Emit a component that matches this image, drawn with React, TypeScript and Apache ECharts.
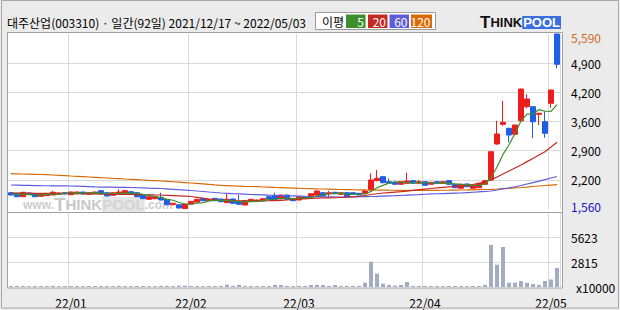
import React, { useEffect, useRef } from "react";
import * as echarts from "echarts";

const TITLE = "대주산업(003310) · 일간(92일) 2021/12/17 ~ 2022/05/03";

const dates = [
  "2021/12/17", "2021/12/20", "2021/12/21", "2021/12/22", "2021/12/23", "2021/12/24", "2021/12/27", "2021/12/28", "2021/12/29", "2021/12/30",
  "2022/01/03", "2022/01/04", "2022/01/05", "2022/01/06", "2022/01/07", "2022/01/10", "2022/01/11", "2022/01/12", "2022/01/13", "2022/01/14",
  "2022/01/17", "2022/01/18", "2022/01/19", "2022/01/20", "2022/01/21", "2022/01/24", "2022/01/25", "2022/01/26", "2022/01/27", "2022/01/28",
  "2022/02/03", "2022/02/04", "2022/02/07", "2022/02/08", "2022/02/09", "2022/02/10", "2022/02/11", "2022/02/14", "2022/02/15", "2022/02/16",
  "2022/02/17", "2022/02/18", "2022/02/21", "2022/02/22", "2022/02/23", "2022/02/24", "2022/02/25", "2022/02/28",
  "2022/03/02", "2022/03/03", "2022/03/04", "2022/03/07", "2022/03/08", "2022/03/10", "2022/03/11", "2022/03/14", "2022/03/15", "2022/03/16",
  "2022/03/17", "2022/03/18", "2022/03/21", "2022/03/22", "2022/03/23", "2022/03/24", "2022/03/25", "2022/03/28", "2022/03/29", "2022/03/30",
  "2022/03/31",
  "2022/04/01", "2022/04/04", "2022/04/05", "2022/04/06", "2022/04/07", "2022/04/08", "2022/04/11", "2022/04/12", "2022/04/13", "2022/04/14",
  "2022/04/15", "2022/04/18", "2022/04/19", "2022/04/20", "2022/04/21", "2022/04/22", "2022/04/25", "2022/04/26", "2022/04/27", "2022/04/28",
  "2022/04/29",
  "2022/05/02", "2022/05/03",
];

const opens = [
  1935, 1921, 1843, 1928, 1912, 1852, 1866, 1882, 1898, 1935,
  1889, 1912, 1951, 1898, 1912, 1981, 1935, 1875, 1905, 1921,
  1958, 1935, 1875, 1783, 1797, 1829, 1783, 1659, 1659, 1570,
  1675, 1721, 1797, 1751, 1806, 1790, 1706, 1790, 1728, 1652,
  1728, 1744, 1751, 1843, 1866, 1790, 1882, 1806,
  1767, 1797, 1843, 1882, 1935, 1912, 1944, 1898, 1935, 1935,
  1921, 1921, 1997, 2212, 2304, 2189, 2175, 2129, 2152, 2212,
  2152,
  2189, 2129, 2189, 2152, 2212, 2129, 2037, 2136, 2037, 2050,
  2129, 2228, 3057, 3510, 3418, 3280, 3590, 3916, 3916, 3741,
  3570,
  3994, 5590,
];
const closes = [
  1882, 1843, 1944, 1889, 1843, 1898, 1912, 1944, 1928, 1905,
  1951, 1951, 1905, 1935, 1951, 1905, 1859, 1935, 1951, 1981,
  1905, 1843, 1797, 1843, 1843, 1767, 1659, 1691, 1583, 1675,
  1737, 1783, 1751, 1783, 1751, 1728, 1783, 1691, 1668, 1751,
  1783, 1767, 1797, 1790, 1783, 1882, 1783, 1751,
  1843, 1843, 1912, 1974, 1866, 1935, 1912, 1935, 1843, 1898,
  1882, 1974, 2228, 2267, 2166, 2152, 2129, 2189, 2205, 2152,
  2189,
  2106, 2175, 2152, 2189, 2129, 2050, 2129, 2073, 2112, 2152,
  2212, 2879, 3287, 3556, 3264, 3494, 4323, 4093, 3570, 3764,
  3303,
  4300, 4892,
];
const lows = [
  1875, 1835, 1835, 1880, 1835, 1845, 1860, 1875, 1890, 1898,
  1880, 1905, 1898, 1890, 1905, 1900, 1850, 1870, 1900, 1915,
  1895, 1835, 1790, 1775, 1790, 1760, 1650, 1650, 1575, 1560,
  1665, 1715, 1745, 1745, 1745, 1720, 1700, 1685, 1660, 1645,
  1720, 1735, 1745, 1785, 1775, 1785, 1775, 1745,
  1760, 1790, 1835, 1875, 1860, 1843, 1900, 1890, 1835, 1890,
  1875, 1915, 1990, 2200, 2150, 2140, 2120, 2120, 2145, 2145,
  2145,
  2100, 2120, 2145, 2145, 2120, 2040, 2030, 2065, 2030, 2045,
  2120, 2220, 3040, 3478, 3096, 3270, 3580, 3879, 3188, 3494,
  3202,
  3893, 4800,
];
const highs = [
  1945, 1930, 1955, 1935, 1920, 1905, 1920, 1981, 1935, 1940,
  1960, 1960, 1960, 1945, 1960, 1990, 1945, 1940, 2013, 1990,
  1965, 1940, 1880, 1850, 1850, 1935, 1790, 1700, 1665, 1680,
  1745, 1790, 1805, 1790, 1810, 1795, 1905, 1800, 1882, 1760,
  1790, 1775, 1805, 1850, 1935, 1890, 1895, 1810,
  1850, 1850, 1920, 1985, 1945, 1981, 1955, 1945, 1945, 1945,
  1930, 2013, 2382, 2458, 2320, 2267, 2190, 2200, 2396, 2220,
  2228,
  2200, 2185, 2200, 2200, 2220, 2140, 2140, 2145, 2120, 2160,
  2220, 2890, 3593, 4047, 3430, 3500, 4330, 4201, 3930, 3770,
  3801,
  4310, 5590,
];

// trading volume, unit x10000 shares
const volumes = [
  120, 110, 130, 100, 110, 100, 110, 140, 100, 100,
  110, 120, 100, 110, 110, 120, 110, 100, 140, 120,
  100, 110, 120, 100, 100, 130, 140, 110, 150, 150,
  120, 110, 100, 100, 110, 130, 260, 140, 250, 130,
  110, 100, 110, 120, 240, 230, 130, 110,
  120, 110, 230, 240, 220, 120, 230, 120, 110, 110,
  130, 480, 2850, 1500, 370, 240, 170, 230, 560, 130,
  120,
  110, 100, 110, 100, 110, 120, 110, 100, 110, 120,
  240, 4730, 2510, 4500, 490, 490, 680, 480, 330, 230,
  680,
  850, 2150,
];

const ma5 = [
  1905, 1895, 1900, 1895, 1880, 1883, 1897, 1897, 1905, 1917,
  1928, 1936, 1928, 1929, 1939, 1929, 1911, 1917, 1920, 1926,
  1926, 1923, 1895, 1874, 1846, 1819, 1782, 1761, 1709, 1675,
  1669, 1694, 1706, 1746, 1761, 1759, 1759, 1747, 1724, 1724,
  1735, 1732, 1753, 1778, 1784, 1804, 1807, 1798,
  1808, 1820, 1826, 1865, 1888, 1906, 1920, 1924, 1898, 1905,
  1894, 1906, 1965, 2050, 2103, 2157, 2188, 2181, 2168, 2165,
  2173,
  2168, 2165, 2155, 2162, 2150, 2139, 2130, 2114, 2099, 2103,
  2136, 2286, 2528, 2817, 3040, 3296, 3585, 3746, 3749, 3849,
  3811,
  3806, 3966,
];
const ma20 = [
  1928, 1927, 1925, 1924, 1922, 1921, 1920, 1920, 1919, 1918,
  1917, 1915, 1912, 1910, 1907, 1905, 1903, 1901, 1898, 1896,
  1894, 1892, 1889, 1887, 1884, 1882, 1876, 1869, 1862, 1855,
  1848, 1829, 1809, 1790, 1773, 1756, 1754, 1751, 1749, 1746,
  1744, 1746, 1749, 1751, 1754, 1756, 1767, 1779,
  1790, 1798, 1806, 1810, 1814, 1818, 1821, 1825, 1832, 1840,
  1848, 1871, 1894, 1911, 1928, 1938, 1948, 1958, 1973, 1989,
  2004,
  2018, 2032, 2045, 2059, 2069, 2079, 2089, 2106, 2124, 2151,
  2193, 2228, 2297, 2366, 2435, 2504, 2573, 2651, 2725, 2803,
  2879,
  2988, 3096,
];
const ma60 = [
  2113, 2110, 2106, 2103, 2100, 2096, 2095, 2094, 2092, 2091,
  2090, 2085, 2080, 2075, 2070, 2066, 2064, 2062, 2059, 2057,
  2055, 2050, 2046, 2041, 2037, 2032, 2023, 2014, 2004, 1995,
  1986, 1974, 1963, 1951, 1940, 1928, 1921, 1914, 1908, 1901,
  1894, 1890, 1885, 1880, 1876, 1871, 1866, 1862,
  1857, 1852, 1848, 1846, 1843, 1841, 1838, 1836, 1838, 1840,
  1843, 1845, 1848, 1852, 1857, 1862, 1866, 1871, 1878, 1885,
  1892,
  1900, 1907, 1911, 1916, 1920, 1924, 1928, 1937, 1946, 1955,
  1964, 1974, 1997, 2022, 2047, 2073, 2101, 2135, 2169, 2203,
  2238,
  2274, 2309,
];
const ma120 = [
  2373, 2370, 2366, 2362, 2358, 2354, 2350, 2343, 2336, 2328,
  2320, 2313, 2305, 2297, 2289, 2281, 2274, 2266, 2259, 2251,
  2244, 2236, 2228, 2220, 2213, 2205, 2196, 2187, 2178, 2169,
  2159, 2148, 2138, 2127, 2116, 2106, 2100, 2094, 2089, 2083,
  2078, 2073, 2067, 2062, 2056, 2051, 2046, 2041,
  2036, 2032, 2028, 2024, 2021, 2017, 2013, 2009, 2007, 2004,
  2002, 1999, 1997, 1996, 1995, 1993, 1992, 1990, 1990, 1990,
  1990,
  1990, 1990, 1991, 1992, 1993, 1995, 1997, 1999, 2002, 2006,
  2009, 2013, 2020, 2028, 2036, 2045, 2055, 2066, 2078, 2090,
  2101,
  2112, 2120,
];

const priceTickLabels = ["1,560", "2,200", "2,900", "3,600", "4,200", "4,900", "5,590"];
const volumeTickLabels = ["x10000", "2815", "5623", ""];
const PRICE_MIN = 1560;
const PRICE_MAX = 5590;
const VOLUME_MAX = 8434;

const legendTitle = "이평";
const legendLabels = ["5", "20", "60", "120"];
const legendColors = ["#3d8f2a", "#c42a22", "#5f5cdc", "#d96b06"];

const FONT = "'Noto Sans CJK KR', 'Noto Sans', sans-serif";
const UP = "#f01c1c";
const DOWN = "#1f5ee6";
const GRID_LINE = "#d9d9d9";
const FRAME = "#a0a0a0";

const isMonthStart = (index: number) =>
  index > 0 && dates[index].slice(5, 7) !== dates[index - 1].slice(5, 7);
const monthLabel = (value: string) => value.slice(2, 4) + "/" + value.slice(5, 7);

export default function App() {
  const ref = useRef<HTMLDivElement>(null);

  useEffect(() => {
    document.body.style.margin = "0";
    if (!ref.current) return;
    const chart = echarts.init(ref.current, undefined, { renderer: "svg" });

    const legendBoxes: any[] = [];
    const boxX = [346, 368, 389.5, 411];
    const boxW = [19.5, 19.5, 19.5, 21];
    legendLabels.forEach((label, i) => {
      legendBoxes.push({
        type: "rect",
        shape: { x: boxX[i], y: 14.5, width: boxW[i], height: 13.5 },
        style: { fill: legendColors[i] },
      });
      legendBoxes.push({
        type: "text",
        x: boxX[i] + boxW[i] - 1.5,
        y: 21.5,
        style: {
          text: label,
          fill: "#fff",
          font: `12px ${FONT}`,
          align: "right",
          verticalAlign: "middle",
        },
      });
    });

    const option: any = {
      animation: false,
      backgroundColor: "#ebebeb",
      textStyle: { fontFamily: FONT },
      grid: [
        { left: 8, top: 34, width: 552, height: 175 },
        { left: 8, top: 212, width: 552, height: 75 },
      ],
      xAxis: [
        {
          type: "category",
          gridIndex: 0,
          data: dates,
          boundaryGap: true,
          axisLine: { show: false },
          axisTick: { show: false },
          axisLabel: { show: false },
          splitLine: { show: true, interval: isMonthStart, lineStyle: { color: GRID_LINE, width: 1 } },
        },
        {
          type: "category",
          gridIndex: 1,
          data: dates,
          boundaryGap: true,
          axisLine: { show: false },
          axisTick: { show: false },
          axisLabel: {
            show: true,
            interval: isMonthStart,
            formatter: monthLabel,
            margin: 9,
            fontSize: 12,
            color: "#000",
            fontFamily: FONT,
          },
          splitLine: { show: true, interval: isMonthStart, lineStyle: { color: GRID_LINE, width: 1 } },
        },
      ],
      yAxis: [
        { type: "value", gridIndex: 0, min: PRICE_MIN, max: PRICE_MAX, show: false },
        {
          type: "category",
          gridIndex: 0,
          position: "right",
          data: priceTickLabels,
          boundaryGap: false,
          axisLine: { show: false },
          axisTick: { show: false },
          axisLabel: {
            margin: 11,
            fontSize: 12,
            color: "#000",
            fontFamily: FONT,
            interval: 0,
            formatter: (value: string, index: number) =>
              index === priceTickLabels.length - 1
                ? `{max|${value}}`
                : index === 0
                ? `{min|${value}}`
                : value,
            rich: {
              max: { color: "#d06a1c", fontSize: 12, fontFamily: FONT, padding: [7, 0, 0, 0] },
              min: { color: "#1414c4", fontSize: 12, fontFamily: FONT, padding: [0, 0, 5, 0] },
            },
          },
          splitLine: {
            show: true,
            interval: (index: number) => index > 0 && index < priceTickLabels.length - 1,
            lineStyle: { color: GRID_LINE, width: 1 },
          },
        },
        { type: "value", gridIndex: 1, min: 0, max: VOLUME_MAX, show: false },
        {
          type: "category",
          gridIndex: 1,
          position: "right",
          data: volumeTickLabels,
          boundaryGap: false,
          axisLine: { show: false },
          axisTick: { show: false },
          axisLabel: {
            margin: 11,
            fontSize: 12,
            color: "#000",
            fontFamily: FONT,
            interval: 0,
            formatter: (value: string, index: number) => (index === 0 ? `{unit|${value}}` : value),
            rich: {
              unit: { color: "#000", fontSize: 12, fontFamily: FONT, padding: [0, 0, 0, 5] },
            },
          },
          splitLine: {
            show: true,
            interval: (index: number) => index > 0 && index < volumeTickLabels.length - 1,
            lineStyle: { color: GRID_LINE, width: 1 },
          },
        },
      ],
      series: [
        {
          type: "candlestick",
          xAxisIndex: 0,
          yAxisIndex: 0,
          data: dates.map((_, i) => [opens[i], closes[i], lows[i], highs[i]]),
          barWidth: 5,
          itemStyle: { color: UP, color0: DOWN, borderColor: UP, borderColor0: DOWN, borderWidth: 1 },
          z: 2,
        },
        { name: "MA120", type: "line", xAxisIndex: 0, yAxisIndex: 0, data: ma120, symbol: "none", lineStyle: { color: legendColors[3], width: 1.2 }, z: 3 },
        { name: "MA60", type: "line", xAxisIndex: 0, yAxisIndex: 0, data: ma60, symbol: "none", lineStyle: { color: legendColors[2], width: 1.2 }, z: 3 },
        { name: "MA20", type: "line", xAxisIndex: 0, yAxisIndex: 0, data: ma20, symbol: "none", lineStyle: { color: legendColors[1], width: 1.2 }, z: 3 },
        { name: "MA5", type: "line", xAxisIndex: 0, yAxisIndex: 0, data: ma5, symbol: "none", lineStyle: { color: legendColors[0], width: 1.2 }, z: 3 },
        {
          type: "bar",
          xAxisIndex: 1,
          yAxisIndex: 2,
          data: volumes,
          barWidth: 4,
          itemStyle: { color: "#a4acc4" },
        },
      ],
      graphic: [
        {
          type: "rect",
          z: -10,
          shape: { x: 7.5, y: 32.5, width: 555, height: 255.5 },
          style: { fill: "#ffffff" },
          silent: true,
        },
        {
          type: "text",
          z: 1,
          x: 23,
          y: 204.5,
          silent: true,
          style: {
            text: "{a|www.}{t|T}{b|HINK}{c|POOL}{a|.com}",
            verticalAlign: "middle",
            rich: {
              a: { fontSize: 12, fontFamily: "'Liberation Sans', sans-serif", fill: "#cdcdcd", fontWeight: "bold" },
              t: { fontSize: 19, fontFamily: "'Liberation Sans', sans-serif", fill: "#c8c8c8", fontWeight: "bold" },
              b: { fontSize: 15, fontFamily: "'Liberation Sans', sans-serif", fill: "#c8c8c8", fontWeight: "bold" },
              c: { fontSize: 15, fontFamily: "'Liberation Sans', sans-serif", fill: "#d4d4d4", fontWeight: "bold", backgroundColor: "#e6e6e6" },
            },
          },
        },
        {
          type: "rect",
          z: 20,
          shape: { x: 7.5, y: 32.5, width: 555, height: 255.5 },
          style: { fill: "none", stroke: FRAME, lineWidth: 1 },
          silent: true,
        },
        {
          type: "line",
          z: 20,
          shape: { x1: 7.5, y1: 212.5, x2: 562.5, y2: 212.5 },
          style: { stroke: FRAME, lineWidth: 1 },
          silent: true,
        },
        {
          type: "rect",
          z: 20,
          shape: { x: 1.5, y: 0.5, width: 617, height: 307.5 },
          style: { fill: "none", stroke: "#a8a8a8", lineWidth: 1 },
          silent: true,
        },
        {
          type: "text",
          x: 7,
          y: 22.5,
          style: { text: TITLE, fill: "#000", font: `12px ${FONT}`, verticalAlign: "middle" },
        },
        {
          type: "rect",
          shape: { x: 315.5, y: 12.5, width: 120, height: 17 },
          style: { fill: "#fff", stroke: "#9a9a9a", lineWidth: 1 },
        },
        {
          type: "text",
          x: 322,
          y: 21.5,
          style: { text: legendTitle, fill: "#000", font: `12px ${FONT}`, verticalAlign: "middle" },
        },
        ...legendBoxes,
        {
          type: "text",
          x: 480,
          y: 22.5,
          style: {
            text: "{t|T}{b|HINK}{p|POOL}",
            verticalAlign: "middle",
            rich: {
              t: { fontSize: 17, fontFamily: "'Liberation Sans', sans-serif", fontWeight: "bold", fill: "#111" },
              b: { fontSize: 13, fontFamily: "'Liberation Sans', sans-serif", fontWeight: "bold", fill: "#111" },
              p: {
                fontSize: 13,
                fontFamily: "'Liberation Sans', sans-serif",
                fontWeight: "bold",
                fill: "#fff",
                backgroundColor: "#3b6fe0",
                padding: [0, 1, 0, 1],
              },
            },
          },
        },
      ],
    };

    chart.setOption(option);
    return () => chart.dispose();
  }, []);

  return <div ref={ref} style={{ width: 620, height: 310 }} />;
}
